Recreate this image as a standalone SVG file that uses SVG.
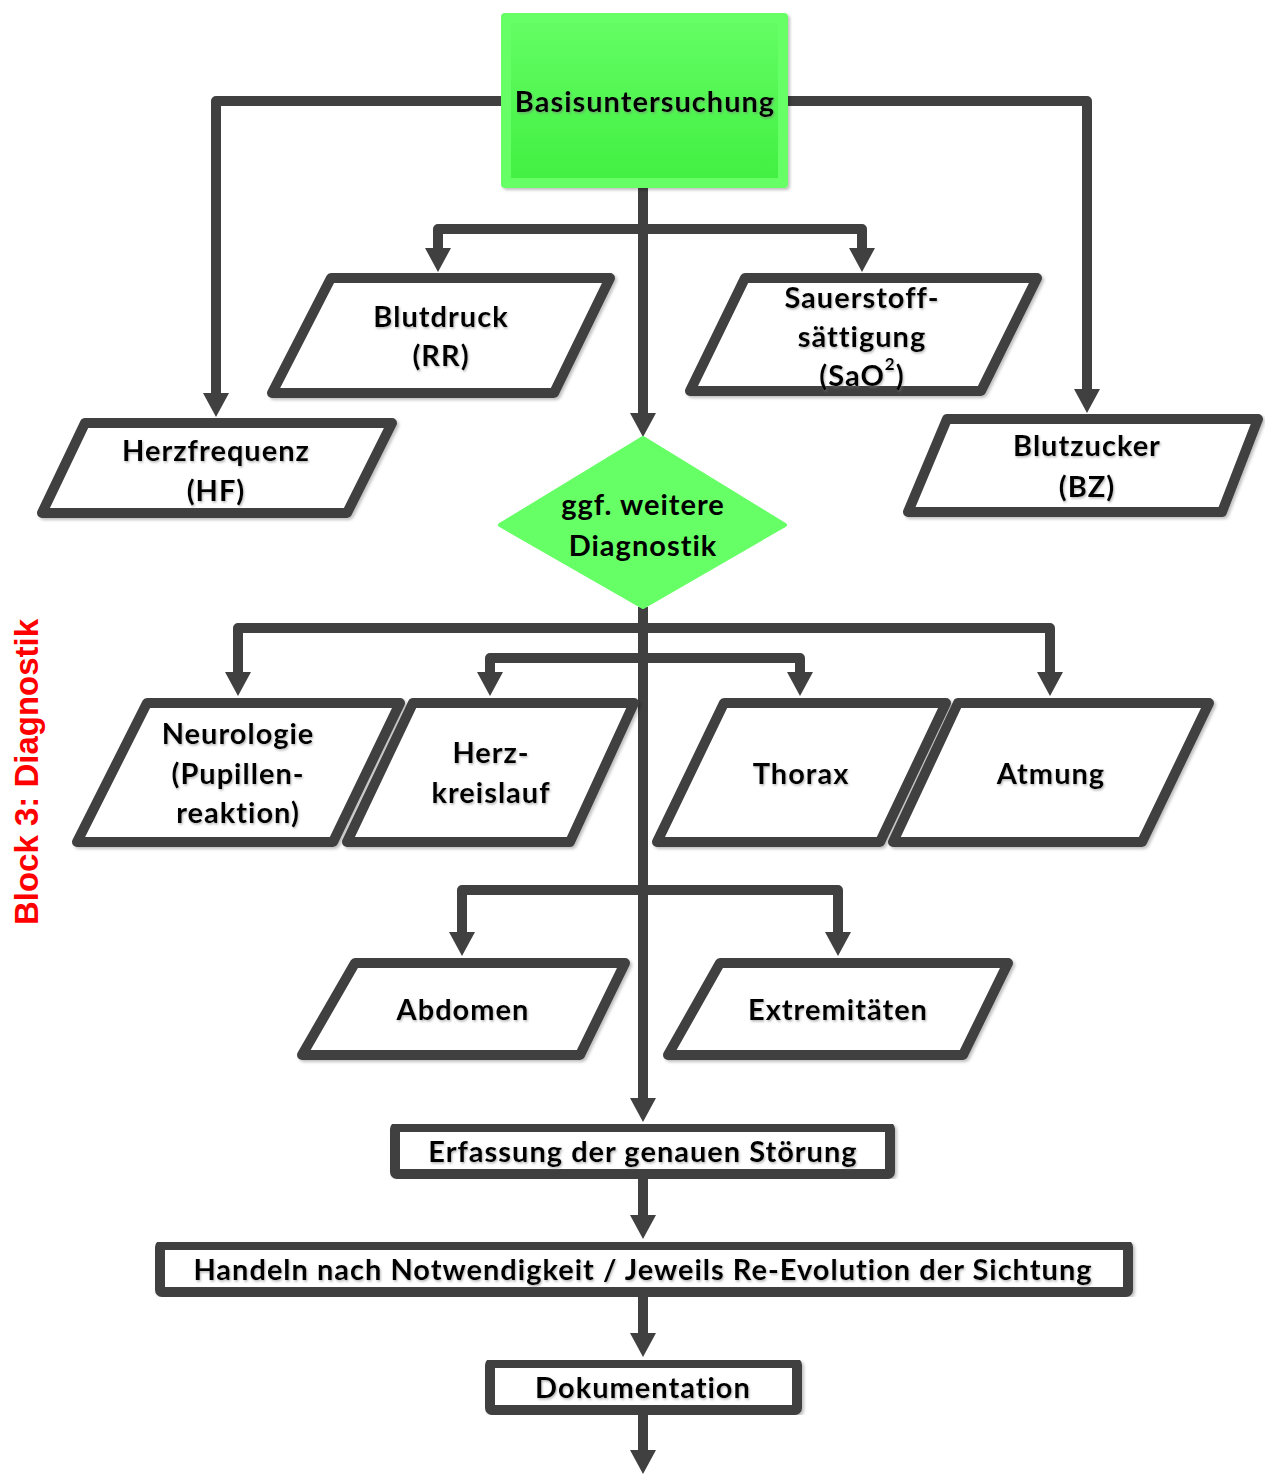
<svg xmlns="http://www.w3.org/2000/svg" width="1265" height="1475" viewBox="0 0 1265 1475">
<defs>
<linearGradient id="gTop" x1="0" y1="0" x2="0" y2="1">
<stop offset="0" stop-color="#63fd63"/>
<stop offset="1" stop-color="#42f042"/>
</linearGradient>
<marker id="arr" markerUnits="userSpaceOnUse" viewBox="0 0 24 26" markerWidth="24" markerHeight="26" refX="1" refY="13" orient="auto">
<path d="M0,0 L24,13 L0,26 Z" fill="#404040"/>
</marker>
<filter id="ts" x="-5%" y="-20%" width="110%" height="140%">
<feDropShadow dx="1" dy="1.5" stdDeviation="0.8" flood-color="#777" flood-opacity="0.55"/>
</filter>
<filter id="bs" x="-5%" y="-5%" width="110%" height="115%">
<feDropShadow dx="2" dy="2" stdDeviation="1.5" flood-color="#000" flood-opacity="0.25"/>
</filter>
</defs>
<style>
.c{fill:none;stroke:#404040;stroke-width:10;stroke-linejoin:round;marker-end:url(#arr)}
.p{fill:#ffffff;stroke:#404040;stroke-width:10;stroke-linejoin:round}
.t{font-family:Lato,"Liberation Sans",sans-serif;font-weight:700;font-size:29px;letter-spacing:1px;fill:#000;text-anchor:middle;dominant-baseline:central}
.sh{filter:url(#ts)}
</style>
<rect width="1265" height="1475" fill="#ffffff"/>

<g id="connectors">
<path class="c" d="M501,101 H216 V394"/>
<path class="c" d="M788,101 H1087 V390"/>
<path class="c" d="M643,188 V414"/>
<path class="c" d="M643,229 H438 V249"/>
<path class="c" d="M643,229 H862 V249"/>
<path class="c" d="M643,607 V1099"/>
<path class="c" d="M643,628 H238 V673"/>
<path class="c" d="M643,628 H1050 V673"/>
<path class="c" d="M643,658 H490 V673"/>
<path class="c" d="M643,658 H800 V673"/>
<path class="c" d="M643,890 H462 V933"/>
<path class="c" d="M643,890 H838 V933"/>
<path class="c" d="M643,1176 V1216"/>
<path class="c" d="M643,1294 V1334"/>
<path class="c" d="M643,1412 V1451"/>
</g>

<g id="basisuntersuchung">
<rect x="501" y="13" width="287" height="175" rx="4" fill="#66ff66" filter="url(#bs)"/>
<rect x="511" y="23" width="267" height="155" fill="url(#gTop)"/>
<text class="t sh" x="645" y="100">Basisuntersuchung</text>
</g>

<g id="herzfrequenz">
<polygon class="p" points="85,423 392,423 347,513 42,513" filter="url(#bs)"/>
<text class="t sh" x="216" y="449">Herzfrequenz</text>
<text class="t sh" x="216" y="489">(HF)</text>
</g>

<g id="blutdruck">
<polygon class="p" points="331,278 610,278 554,393 272,393" filter="url(#bs)"/>
<text class="t sh" x="441" y="315">Blutdruck</text>
<text class="t sh" x="441" y="354">(RR)</text>
</g>

<g id="sauerstoff">
<polygon class="p" points="745,278 1037,278 981,391 690,391" filter="url(#bs)"/>
<text class="t sh" x="862" y="296">Sauerstoff-</text>
<text class="t sh" x="862" y="335">sättigung</text>
<text class="t sh" x="862" y="374">(SaO<tspan font-size="17" dy="-11">2</tspan><tspan dy="11">)</tspan></text>
</g>

<g id="blutzucker">
<polygon class="p" points="947,419 1258,419 1222,512 908,512" filter="url(#bs)"/>
<text class="t sh" x="1087" y="444">Blutzucker</text>
<text class="t sh" x="1087" y="485">(BZ)</text>
</g>

<g id="diagnostik">
<polygon points="643,438 785,525 643,607 500,525" fill="#66ff66" stroke="#66ff66" stroke-width="4" stroke-linejoin="round"/>
<text class="t" x="643" y="503">ggf. weitere</text>
<text class="t" x="643" y="544">Diagnostik</text>
</g>

<g id="neurologie">
<polygon class="p" points="147,703 400,703 333,842 77,842" filter="url(#bs)"/>
<text class="t sh" x="238" y="732">Neurologie</text>
<text class="t sh" x="238" y="772">(Pupillen-</text>
<text class="t sh" x="238" y="811">reaktion)</text>
</g>

<g id="herzkreislauf">
<polygon class="p" points="413,703 634,703 570,842 347,842" filter="url(#bs)"/>
<text class="t sh" x="491" y="751">Herz-</text>
<text class="t sh" x="491" y="791">kreislauf</text>
</g>

<g id="thorax">
<polygon class="p" points="724,703 946,703 880,842 657,842" filter="url(#bs)"/>
<text class="t sh" x="801" y="772">Thorax</text>
</g>

<g id="atmung">
<polygon class="p" points="958,703 1209,703 1142,842 893,842" filter="url(#bs)"/>
<text class="t sh" x="1051" y="772">Atmung</text>
</g>

<g id="abdomen">
<polygon class="p" points="355,963 625,963 580,1055 302,1055" filter="url(#bs)"/>
<text class="t sh" x="463" y="1008">Abdomen</text>
</g>

<g id="extremitaeten">
<polygon class="p" points="720,963 1008,963 963,1055 668,1055" filter="url(#bs)"/>
<text class="t sh" x="838" y="1008">Extremitäten</text>
</g>

<g id="erfassung">
<rect class="p" x="395" y="1127" width="495" height="47" rx="2" filter="url(#bs)"/>
<text class="t sh" x="643" y="1150">Erfassung der genauen Störung</text>
</g>

<g id="handeln">
<rect class="p" x="160" y="1245" width="968" height="47" rx="2" filter="url(#bs)"/>
<text class="t sh" x="643" y="1268">Handeln nach Notwendigkeit / Jeweils Re-Evolution der Sichtung</text>
</g>

<g id="dokumentation">
<rect class="p" x="490" y="1363" width="307" height="47" rx="2" filter="url(#bs)"/>
<text class="t sh" x="643" y="1386">Dokumentation</text>
</g>

<text x="38" y="772" transform="rotate(-90 38 772)" font-family="'Liberation Sans',Arial,sans-serif" font-weight="700" font-size="33" fill="#ff0000" text-anchor="middle">Block 3: Diagnostik</text>
</svg>
